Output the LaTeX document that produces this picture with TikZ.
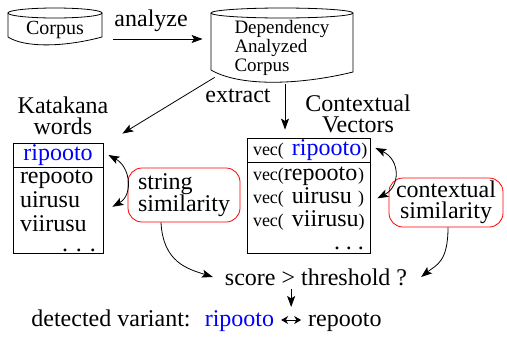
\documentclass[tikz,border=0pt]{standalone}
\usepackage{fontspec}
\setmainfont{Liberation Serif}
\usetikzlibrary{positioning, arrows.meta, calc}

\newcommand{\vecfont}{\fontsize{9}{10}\selectfont}
\newcommand{\vecof}[1]{\makebox[\hsize][l]{{\vecfont vec(}#1\hfill{\vecfont )}}}

\begin{document}
\begin{tikzpicture}[
    x=0.5pt, y=-0.5pt,
    >={Stealth[length=5.5pt, width=4pt, inset=1.2pt]},
    every node/.style={font=\fontsize{12}{12}\selectfont},
    dbbox/.style={inner sep=0pt},
    title/.style={align=center, font=\fontsize{12}{10.5}\selectfont},
    cellhead/.style={draw, minimum height=12pt, inner ysep=0pt},
    cellbody/.style={draw, align=left, inner ysep=0pt},
    simbox/.style={draw=red, rounded corners=7pt, inner sep=0pt},
    line/.style={text height=8.5pt, text depth=2.5pt}
]
\useasboundingbox (0,0) rectangle (507,338);

% corpora
\node[dbbox, minimum width=47pt, minimum height=19pt,
      font=\fontsize{10}{12}\selectfont] (corpus) at (55,30) {Corpus};
\node[dbbox, minimum width=71pt, minimum height=36pt, align=left,
      font=\fontsize{9.5}{9.5}\selectfont] (dac) at (282,48)
      {Dependency\\Analyzed\\Corpus};

\draw (8,13) -- (8,37) .. controls (25,48) and (65,47) .. (102,37) -- (102,13);
\draw (55,13) ellipse [x radius=47, y radius=5];
\draw (211,13) -- (211,70) .. controls (240,87) and (300,85) .. (353,72) -- (353,13);
\draw (282,13) ellipse [x radius=71, y radius=5];

% word lists
\node[title] (klabel) at (63,116) {Katakana\\words};
\node[title] (vlabel) at (358,114) {Contextual\\Vectors};

\node[cellhead, minimum width=45pt, text=blue] (khead) at (58,155) {ripooto};
\node[cellbody, below=0pt of khead, text width=38pt, inner xsep=3.5pt,
      minimum height=43pt] (kbody)
      {repooto\\uirusu\\viirusu\\[-2pt]\hfill.\hspace{4pt}.\hspace{4pt}.};

\node[cellhead, text width=55.5pt, inner xsep=3pt] (vhead) at (308.5,150)
      {\vecof{\ \textcolor{blue}{ripooto}}};
\node[cellbody, below=0pt of vhead, text width=55.5pt, inner xsep=3pt,
      minimum height=45.5pt, font=\fontsize{12}{11.5}\selectfont] (vbody)
      {\vecof{repooto}\\\vecof{\ uirusu}\\\vecof{\ viirusu}\\
       \hfill.\hspace{3pt}.\hspace{3pt}.};

% similarities
\node[simbox, minimum width=56pt, minimum height=27pt, align=left,
      font=\fontsize{12}{11}\selectfont] (ssim) at (184,195) {string\\similarity};
\node[simbox, minimum width=57pt, minimum height=24.5pt, align=center,
      font=\fontsize{12}{10.5}\selectfont] (csim) at (446,202.5) {contextual\\similarity};

\node[inner ysep=1.5pt] (score) at (316,277) {score > threshold ?};

% result
\node[line] (det) at (111,320) {detected variant:};
\node[line, right=0pt of det, text=blue] (vr1) {ripooto};
\node[line, right=10pt of vr1] (vr2) {repooto};
\coordinate (swap) at ($(vr1.east)!0.5!(vr2.west)$);

% arrows
\draw[->, shorten <=5.5pt, shorten >=4pt] (corpus.east |- 0,39)
    -- node[above, pos=0.45] {analyze} (dac.west |- 0,39);
\node at (238,96) {extract};
\draw[->] ([xshift=2pt, yshift=3.5pt]dac.south west)
    -- ([xshift=9.5pt, yshift=4.5pt]khead.north east);
\draw[->, shorten >=4pt] ([xshift=1.5pt]dac.south)
    -- ([xshift=1.5pt]dac.south |- vhead.north);

\draw[<->] ([xshift=2.5pt]khead.east) .. controls +(22,12) and +(21,-12)
    .. ([xshift=4.5pt, yshift=2pt]kbody.east);
\draw[<->] ([xshift=2.5pt, yshift=1pt]vhead.east) .. controls +(25,12) and +(23,-12)
    .. ([xshift=3.5pt, yshift=5pt]vbody.east);

\draw[->] ([xshift=-11.5pt]ssim.south) .. controls +(2,40) and +(-25,-8)
    .. ([xshift=-2.5pt]score.west);
\draw[->] ([xshift=1pt]csim.south) .. controls +(0,35) and +(15,-12)
    .. ([xshift=3.5pt]score.east);

\draw[->] (score.south -| swap) -- ([yshift=6.5pt]swap);
\draw[{Stealth[length=3.5pt, width=4pt]}-{Stealth[length=3.5pt, width=4pt]}]
    (vr1) -- (vr2);

\end{tikzpicture}
\end{document}
